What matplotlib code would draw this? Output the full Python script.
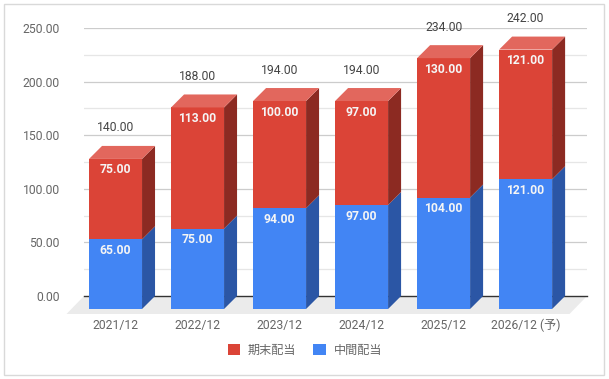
import matplotlib
matplotlib.use("Agg")
import matplotlib.pyplot as plt
from matplotlib.patches import Polygon, Rectangle, Patch

categories = ['2021/12', '2022/12', '2023/12', '2024/12', '2025/12', '2026/12 (予)']
interim = [65, 75, 94, 97, 104, 121]     # 中間配当
final = [75, 113, 100, 97, 130, 121]     # 期末配当
totals = [a + b for a, b in zip(interim, final)]
yticks = [0, 50, 100, 150, 200, 250]
series_names = ['期末配当', '中間配当']

FONT = ['Roboto', 'Noto Sans CJK JP', 'DejaVu Sans']
plt.rcParams['font.family'] = FONT
FS = 8.7

W, H = 609, 379
fig = plt.figure(figsize=(W / 100, H / 100), dpi=100)

# axes (back plane) in pixel coordinates
x0p, x1p, y0p, y1p = 84, 587, 296, 28
ax = fig.add_axes([x0p / W, (H - y0p) / H, (x1p - x0p) / W, (y0p - y1p) / H])
xlim = (-0.543, 5.59)
ylim = (0, 250)
ax.set_xlim(*xlim)
ax.set_ylim(*ylim)
pxx = (x1p - x0p) / (xlim[1] - xlim[0])   # px per x-unit
pxy = (y0p - y1p) / (ylim[1] - ylim[0])   # px per y-unit

for s in ax.spines.values():
    s.set_visible(False)
ax.set_xticks([])
ax.set_yticks(yticks)
ax.set_yticklabels([f"{v:.2f}" for v in yticks], color='#666666', fontsize=FS)
ax.tick_params(axis='y', length=0, pad=17.5)

# gridlines
for v in range(0, 251, 25):
    if v == 0:
        continue
    ax.axhline(v, color='#cccccc' if v % 50 == 0 else '#e6e6e6', lw=0.9, zorder=0)

# depth offsets
ddx = 13 / pxx
ddy = 13 / pxy
fdx = 17.5 / pxx
fdy = 18 / pxy

# floor
floor = Polygon([(xlim[0], 0), (xlim[1], 0), (xlim[1] - fdx, -fdy), (xlim[0] - fdx, -fdy)],
                closed=True, facecolor='#ebebeb', edgecolor='none', clip_on=False, zorder=1)
ax.add_patch(floor)
ax.plot([xlim[0], xlim[1]], [0, 0], color='#333333', lw=1.0, zorder=2, clip_on=False)

bw = 53 / pxx
colors = {
    'blue': ('#4285f4', '#2b56a5', '#6a9ef6'),
    'red': ('#db4437', '#8c2a22', '#e2675d'),
}


def draw_box(xc, bot, top, cols, show_top):
    front, side, topc = cols
    xl = xc - bw / 2 - ddx
    xr = xc + bw / 2 - ddx
    fb, ft = bot - ddy, top - ddy
    ax.add_patch(Polygon([(xl, fb), (xr, fb), (xr, ft), (xl, ft)], closed=True,
                         facecolor=front, edgecolor='none', clip_on=False, zorder=3))
    ax.add_patch(Polygon([(xr, fb), (xr + ddx, bot), (xr + ddx, top), (xr, ft)], closed=True,
                         facecolor=side, edgecolor='none', clip_on=False, zorder=3))
    if show_top:
        ax.add_patch(Polygon([(xl, ft), (xr, ft), (xr + ddx, top), (xl + ddx, top)], closed=True,
                             facecolor=topc, edgecolor='none', clip_on=False, zorder=3))


lab_off = 11 / pxy
for i, (a, b, t) in enumerate(zip(interim, final, totals)):
    draw_box(i, 0, a, colors['blue'], False)
    draw_box(i, a, a + b, colors['red'], True)
    fx = i - ddx
    ax.text(fx, a - ddy - lab_off, f"{a:.2f}", ha='center', va='center', color='#f5f5f5',
            fontsize=FS, fontweight='bold', zorder=5, clip_on=False)
    ax.text(fx, a + b - ddy - lab_off, f"{b:.2f}", ha='center', va='center', color='#f5f5f5',
            fontsize=FS, fontweight='bold', zorder=5, clip_on=False)
    ax.text(fx, t + 18 / pxy, f"{t:.2f}", ha='center', va='center', color='#444444',
            fontsize=FS, zorder=5, clip_on=False)
    ax.text(fx, -(325 - y0p) / pxy, categories[i], ha='center', va='center', color='#666666',
            fontsize=FS, zorder=5, clip_on=False)

# legend
handles = [Patch(facecolor=colors['red'][0], edgecolor='none', label=series_names[0]),
           Patch(facecolor=colors['blue'][0], edgecolor='none', label=series_names[1])]
leg = fig.legend(handles=handles, loc='center', bbox_to_anchor=(305 / W, 1 - 350 / H), ncol=2,
                 frameon=False, fontsize=FS, handlelength=1.0, handleheight=1.0,
                 handletextpad=0.7, columnspacing=1.4)
for txt in leg.get_texts():
    txt.set_color('#666666')

# outer border
fig.patches.append(Rectangle((4 / W, 4 / H), (604 - 4) / W, (375 - 4) / H, transform=fig.transFigure,
                             facecolor='none', edgecolor='#d9d9d9', lw=1.0))

fig.savefig('out.png', dpi=100)
